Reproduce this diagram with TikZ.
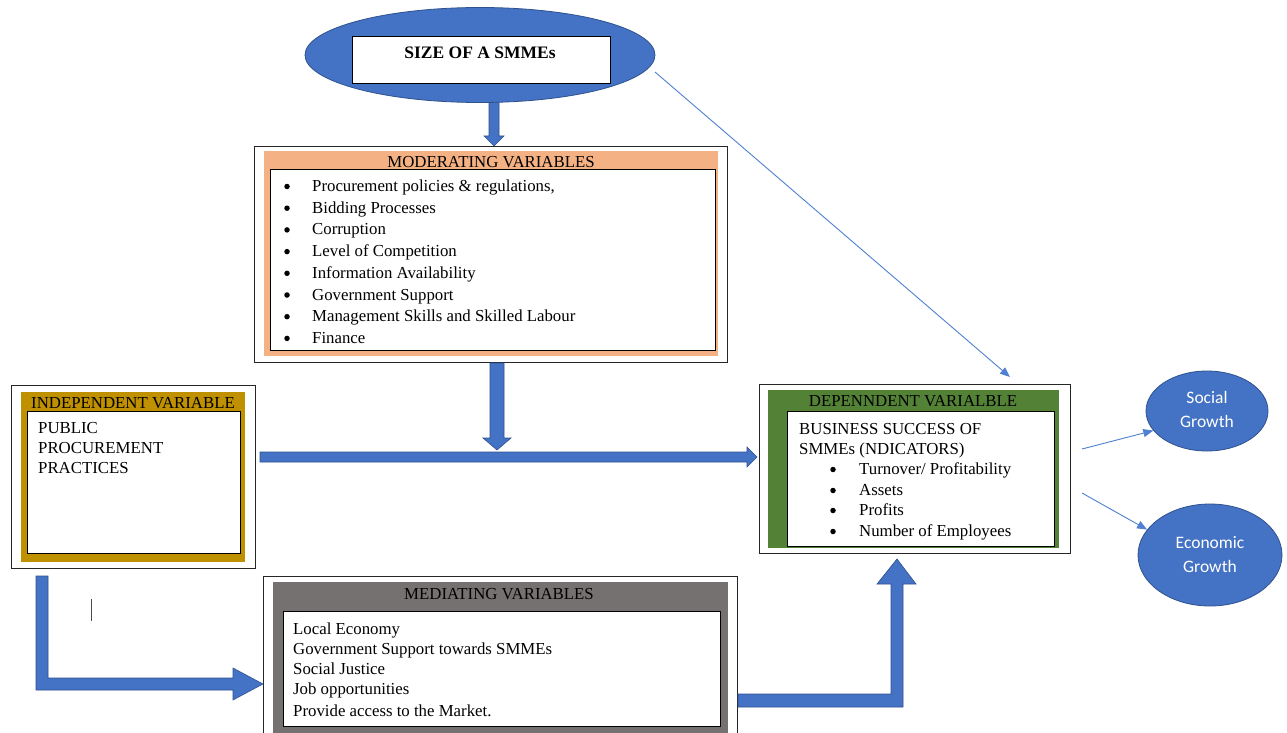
\documentclass[tikz,border=0pt]{standalone}
\usepackage{fontspec}
\setmainfont{Liberation Serif}
\newfontfamily\sansf{Carlito}
\usetikzlibrary{shapes.geometric,arrows.meta}
\definecolor{myblue}{HTML}{4472C4}
\definecolor{myborder}{HTML}{2F528F}
\definecolor{mythin}{HTML}{4F81D0}
\definecolor{myorange}{HTML}{F4B183}
\definecolor{mygold}{HTML}{BF9000}
\definecolor{mygreen}{HTML}{538135}
\definecolor{mygray}{HTML}{767171}
\newcommand{\tf}{\fontsize{16.8}{20}\selectfont}
\tikzset{
  outerbox/.style={draw=black!85, line width=0.9pt, fill=white, inner sep=0, anchor=north west},
  bandbox/.style={draw=none, inner sep=0, anchor=north west},
  innerbox/.style={draw=black, line width=1.2pt, fill=white, inner sep=0, anchor=north west},
  txt/.style={font=\tf, anchor=base west, inner sep=0},
  hdr/.style={font=\tf, anchor=base, inner sep=0},
  bul/.style={circle, fill=black, inner sep=0, minimum size=5.5},
  blockarrow/.style={fill=myblue, draw=myborder, line width=0.6pt, line join=miter},
  thinarrow/.style={draw=mythin, line width=0.9pt, -{Triangle[length=10pt,width=8pt]}},
  blob/.style={ellipse, fill=myblue, draw=myborder, line width=0.8pt, inner sep=0},
  blobtxt/.style={font=\sansf\fontsize{17.5}{24}\selectfont, text=white, align=center, inner sep=0},
}
\begin{document}
\begin{tikzpicture}[x=1pt,y=-1pt]
\useasboundingbox (0,0) rectangle (1287,733);
\clip (0,0) rectangle (1287,733);
\fill[white] (0,0) rectangle (1287,733);

% ---- block arrows (drawn first) ----
\filldraw[blockarrow] (489,100) -- (499,100) -- (499,136) -- (504,136) -- (494,146) -- (484,136) -- (489,136) -- cycle;

% ---- size ellipse ----
\node[blob, minimum width=350, minimum height=95] (size) at (480,55) {};
\node[draw=black, line width=1pt, fill=white, minimum width=258, minimum height=47, inner sep=0] (sizeb) at (481,60.5) {};
\node[font=\fontsize{17.5}{20}\selectfont\bfseries, anchor=base, inner sep=0] (sizet) at (480,59) {SIZE OF A SMMEs};

% ---- moderating ----
\node[outerbox, minimum width=473, minimum height=216] (modO) at (254,146) {};
\node[bandbox, fill=myorange, minimum width=454, minimum height=205] (modB) at (264,151) {};
\node[innerbox, minimum width=445, minimum height=181] (modI) at (270,169) {};
\node[hdr] (modH) at (491,167) {MODERATING VARIABLES};
\foreach \t [count=\i] in {{Procurement policies \& regulations,},Bidding Processes,Corruption,Level of Competition,Information Availability,Government Support,Management Skills and Skilled Labour,Finance}{
  \node[bul] (modb\i) at (287,{186.5+21.7*(\i-1)}) {};
  \node[txt] (modt\i) at (312,{191.5+21.7*(\i-1)}) {\t};
}

% ---- independent ----
\node[outerbox, minimum width=244, minimum height=183] (indO) at (11,385) {};
\node[bandbox, fill=mygold, minimum width=224, minimum height=170] (indB) at (21,392) {};
\node[innerbox, minimum width=213, minimum height=142] (indI) at (27,411) {};
\node[hdr] (indH) at (133,408) {INDEPENDENT VARIABLE};
\node[txt] (ind1) at (38,433) {PUBLIC};
\node[txt] (ind2) at (38,453) {PROCUREMENT};
\node[txt] (ind3) at (38,473) {PRACTICES};

% ---- dependent ----
\node[outerbox, minimum width=311, minimum height=169] (depO) at (759,384) {};
\node[bandbox, fill=mygreen, minimum width=291, minimum height=158] (depB) at (768,390) {};
\node[innerbox, minimum width=267, minimum height=135] (depI) at (787,411) {};
\node[hdr] (depH) at (913,406) {DEPENNDENT VARIALBLE};
\node[txt] (dep1) at (799,434) {BUSINESS SUCCESS OF};
\node[txt] (dep2) at (799,454) {SMMEs (NDICATORS)};
\node[bul] (depb1) at (833,469.5) {};
\node[txt] (dept1) at (859,474.5) {Turnover/ Profitability};
\node[bul] (depb2) at (833,490.5) {};
\node[txt] (dept2) at (859,495.5) {Assets};
\node[bul] (depb3) at (833,510.5) {};
\node[txt] (dept3) at (859,515.5) {Profits};
\node[bul] (depb4) at (833,531.5) {};
\node[txt] (dept4) at (859,536.5) {Number of Employees};

% ---- mediating ----
\node[outerbox, minimum width=474, minimum height=170] (medO) at (263,576) {};
\node[bandbox, fill=mygray, minimum width=455, minimum height=160] (medB) at (273,582) {};
\node[innerbox, minimum width=437, minimum height=115] (medI) at (283,611) {};
\node[hdr] (medH) at (499,599) {MEDIATING VARIABLES};
\node[txt] (medt1) at (293,634) {Local Economy};
\node[txt] (medt2) at (293,654) {Government Support towards SMMEs};
\node[txt] (medt3) at (293,674) {Social Justice};
\node[txt] (medt4) at (293,694) {Job opportunities};
\node[txt] (medt5) at (293,716) {Provide access to the Market.};

% ---- other block arrows ----
\filldraw[blockarrow] (490,363) -- (504,363) -- (504,438) -- (511,438) -- (497,450) -- (483,438) -- (490,438) -- cycle;
\filldraw[blockarrow] (260,452) -- (747,452) -- (747,447) -- (757,457) -- (747,467) -- (747,462) -- (260,462) -- cycle;
\filldraw[blockarrow] (36,576) -- (48,576) -- (48,678) -- (233,678) -- (233,668) -- (263,684) -- (233,700) -- (233,690) -- (36,690) -- cycle;
\filldraw[blockarrow] (738,694) -- (891,694) -- (891,584) -- (877,584) -- (897,559) -- (916,584) -- (903,584) -- (903,707) -- (738,707) -- cycle;

% cursor mark
\draw[black!70, line width=0.8pt] (91,599) -- (91,621);

% ---- outcome ellipses ----
\node[blob, minimum width=122, minimum height=80] (soc) at (1207,411) {};
\node[blobtxt] (soct) at (1207,409) {Social\\Growth};
\node[blob, minimum width=144, minimum height=102] (eco) at (1210,555) {};
\node[blobtxt] (ecot) at (1210,555) {Economic\\Growth};

% ---- thin arrows ----
\coordinate (s1) at (655,72);
\coordinate (s2) at (1010,377);
\draw[thinarrow] (s1) -- (s2);
\coordinate (d1) at (1082,449);
\coordinate (d2) at (1082,493);
\draw[thinarrow] (d1) -- (soc.200);
\draw[thinarrow] (d2) -- (eco.158);
\end{tikzpicture}
\end{document}
